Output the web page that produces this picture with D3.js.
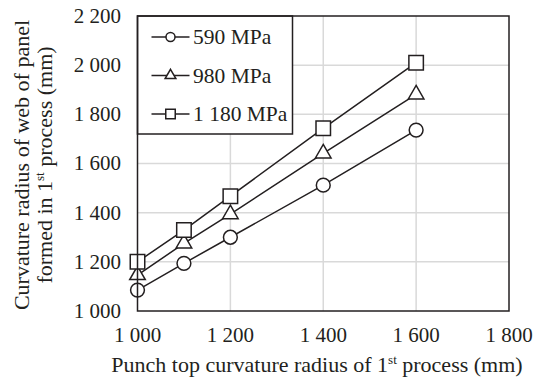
<!DOCTYPE html>
<html>
<head>
<meta charset="utf-8">
<script src="https://cdn.jsdelivr.net/npm/d3@7"></script>
<style>
  body { margin: 0; background: #fff; }
</style>
</head>
<body>
<div id="chart"></div>
<script>
const punchRadius = [1000, 1100, 1200, 1400, 1600];
const mpa590 = [1085, 1194, 1300, 1512, 1736];
const mpa980 = [1146, 1275, 1394, 1641, 1881];
const mpa1180 = [1200, 1329, 1467, 1743, 2010];
const seriesNames = ["590 MPa", "980 MPa", "1 180 MPa"];
const xTicks = [1000, 1200, 1400, 1600, 1800];
const yTicks = [1000, 1200, 1400, 1600, 1800, 2000, 2200];

const width = 535, height = 385;
const margin = { top: 16, right: 26, bottom: 74, left: 137.5 };
const ink = "#231f20";
const font = "'Liberation Serif', 'Times New Roman', serif";

const series = [
  { name: seriesNames[0], values: mpa590, symbol: d3.symbolCircle, size: 150, legendSize: 64 },
  { name: seriesNames[1], values: mpa980, symbol: d3.symbolTriangle, size: 105, legendSize: 50 },
  { name: seriesNames[2], values: mpa1180, symbol: d3.symbolSquare, size: 210, legendSize: 90 },
];

const fmt = (v) => d3.format(",")(v).replace(",", " ");

const svg = d3
  .select("#chart")
  .append("svg")
  .attr("width", width)
  .attr("height", height)
  .attr("font-family", font)
  .attr("fill", ink);

const x = d3.scaleLinear().domain([1000, 1800]).range([margin.left, width - margin.right]);
const y = d3.scaleLinear().domain([1000, 2200]).range([height - margin.bottom, margin.top]);

// grid
svg.append("g")
  .selectAll("line")
  .data(xTicks.slice(1, -1))
  .join("line")
  .attr("x1", (d) => x(d)).attr("x2", (d) => x(d))
  .attr("y1", y(1000)).attr("y2", y(2200))
  .attr("stroke", "#d9d9d9").attr("stroke-width", 1.5);

svg.append("g")
  .selectAll("line")
  .data(yTicks.slice(1, -1))
  .join("line")
  .attr("x1", x(1000)).attr("x2", x(1800))
  .attr("y1", (d) => y(d)).attr("y2", (d) => y(d))
  .attr("stroke", "#d9d9d9").attr("stroke-width", 1.5);

// tick labels
svg.append("g")
  .selectAll("text")
  .data(yTicks)
  .join("text")
  .attr("x", x(1000) - 16.5)
  .attr("y", (d) => y(d))
  .attr("dy", "0.33em")
  .attr("text-anchor", "end")
  .attr("font-size", 21)
  .text(fmt);

svg.append("g")
  .selectAll("text")
  .data(xTicks)
  .join("text")
  .attr("x", (d) => x(d))
  .attr("y", y(1000) + 30.5)
  .attr("text-anchor", "middle")
  .attr("font-size", 21)
  .text(fmt);

// axis titles
const xt = svg.append("text")
  .attr("x", 317)
  .attr("y", 372)
  .attr("text-anchor", "middle")
  .attr("font-size", 22);
xt.append("tspan").text("Punch top curvature radius of 1");
xt.append("tspan").attr("dy", -8).attr("font-size", 13).text("st");
xt.append("tspan").attr("dy", 8).text(" process (mm)");

const yt = svg.append("g").attr("transform", "translate(0,165) rotate(-90)");
yt.append("text")
  .attr("x", 0).attr("y", 28.5)
  .attr("text-anchor", "middle")
  .attr("font-size", 22)
  .text("Curvature radius of web of panel");
const yt2 = yt.append("text")
  .attr("x", 0).attr("y", 52)
  .attr("text-anchor", "middle")
  .attr("font-size", 22);
yt2.append("tspan").text("formed in 1");
yt2.append("tspan").attr("dy", -8).attr("font-size", 13).text("st");
yt2.append("tspan").attr("dy", 8).text(" process (mm)");

// lines and markers
const line = d3.line().x((d, i) => x(punchRadius[i])).y((d) => y(d));

series.forEach((s) => {
  svg.append("path")
    .attr("d", line(s.values))
    .attr("fill", "none")
    .attr("stroke", ink)
    .attr("stroke-width", 1.5);
  svg.append("g")
    .selectAll("path")
    .data(s.values)
    .join("path")
    .attr("transform", (d, i) => `translate(${x(punchRadius[i])},${y(d)})`)
    .attr("d", d3.symbol().type(s.symbol).size(s.size))
    .attr("fill", "#fff")
    .attr("stroke", ink)
    .attr("stroke-width", 1.5);
});

// legend
const legend = svg.append("g");
legend.append("rect")
  .attr("x", x(1000)).attr("y", y(2200))
  .attr("width", 155).attr("height", 118)
  .attr("fill", "#fff")
  .attr("stroke", ink)
  .attr("stroke-width", 1.5);

series.forEach((s, si) => {
  const ly = 37 + si * 38.5;
  const g = legend.append("g").attr("transform", `translate(0,${ly})`);
  g.append("line")
    .attr("x1", 151.5).attr("x2", 189.5)
    .attr("y1", 0).attr("y2", 0)
    .attr("stroke", ink).attr("stroke-width", 1.5);
  g.append("path")
    .attr("transform", "translate(170.5,0)")
    .attr("d", d3.symbol().type(s.symbol).size(s.legendSize))
    .attr("fill", "#fff")
    .attr("stroke", ink)
    .attr("stroke-width", 1.5);
  g.append("text")
    .attr("x", 193)
    .attr("dy", "0.33em")
    .attr("font-size", 21.5)
    .text(s.name);
});

// frame
svg.append("rect")
  .attr("x", x(1000)).attr("y", y(2200))
  .attr("width", x(1800) - x(1000)).attr("height", y(1000) - y(2200))
  .attr("fill", "none")
  .attr("stroke", ink)
  .attr("stroke-width", 1.5);
</script>
</body>
</html>
